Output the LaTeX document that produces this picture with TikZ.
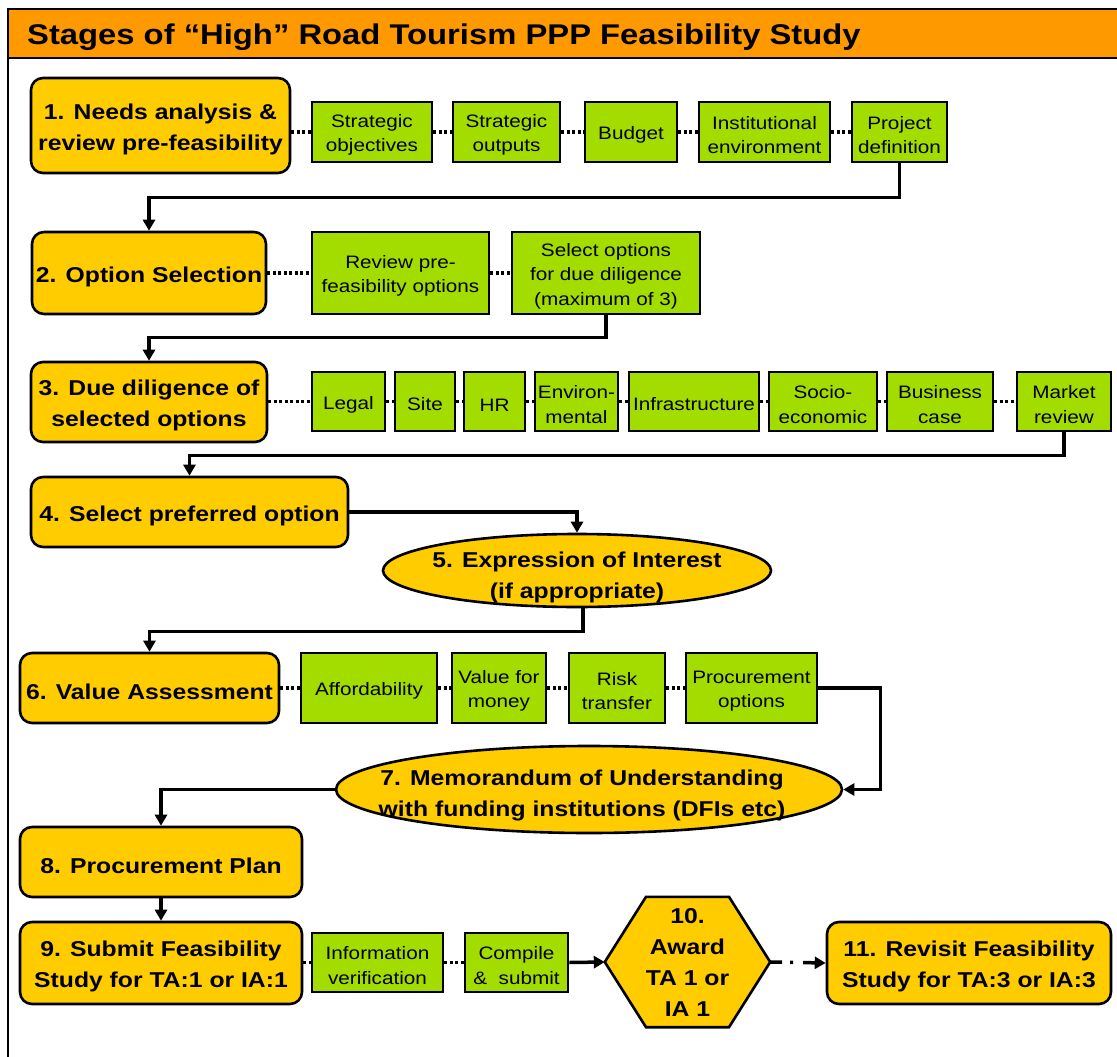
\documentclass[tikz,border=0pt]{standalone}
\usepackage{fontspec}
\setmainfont{Liberation Sans}[FakeStretch=1.15]
\usetikzlibrary{arrows.meta,shapes.geometric,calc}
\definecolor{ybox}{HTML}{FFCC00}
\definecolor{gbox}{HTML}{A3DD00}
\definecolor{obar}{HTML}{FF9900}
\newcommand\yb[5]{\node[ynode, minimum width=#3pt, minimum height=#4pt] (#1) at (#2) {\rule{0pt}{22.5pt}#5};}
\newcommand\gb[5]{\node[gnode, minimum width=#3pt, minimum height=#4pt] (#1) at (#2) {\rule{0pt}{19pt}#5};}
\begin{document}
\begin{tikzpicture}[x=1pt,y=-1pt,
  ynode/.style={draw=black, line width=2.6pt, fill=ybox, rounded corners=12pt, align=center, inner sep=0pt, font=\fontsize{21.5}{31}\selectfont\bfseries},
  gnode/.style={draw=black, line width=2.6pt, fill=gbox, align=center, inner sep=0pt, font=\fontsize{18}{24.5}\selectfont},
  enode/.style={ellipse, draw=black, line width=2.6pt, fill=ybox, inner sep=0pt, font=\fontsize{21.5}{31}\selectfont\bfseries},
  dotl/.style={line width=3.5pt, dash pattern=on 3pt off 2.5pt},
  conn/.style={line width=3.5pt, -{Triangle[length=11pt,width=12pt]}},
]
\useasboundingbox (0,0) rectangle (1117,1057);
\fill[white] (0,0) rectangle (1117,1057);
% frame and title bar
\fill[obar] (8,9) rectangle (1117,58);
\draw[line width=2.5pt] (8,9) -- (1117,9);
\draw[line width=2.5pt] (8,58) -- (1117,58);
\draw[line width=2.5pt] (8,8) -- (8,1057);
\node[anchor=base west, inner sep=0pt, font=\fontsize{28.5}{34}\selectfont\bfseries] (title) at (27,45) {Stages of “High” Road Tourism PPP Feasibility Study};

% main stages
\yb{n1}{160.5,125.5}{259}{95}{1. Needs analysis \&\\review pre-feasibility}
\yb{n2}{149,273}{234}{82}{2. Option Selection}
\yb{n3}{149,402}{236}{80}{3. Due diligence of\\selected options}
\yb{n4}{189.5,512}{317}{70}{4. Select preferred option}
\node[enode, minimum width=388pt, minimum height=73pt] (e5) at (577,570.5)
  {\raisebox{-11pt}[0pt][0pt]{\makebox[0pt]{\begin{tabular}{@{}c@{}}5. Expression of Interest\\(if appropriate)\end{tabular}}}};
\yb{n6}{149.5,688}{259}{70}{6. Value Assessment}
\node[enode, minimum width=506pt, minimum height=87pt] (e7) at (589,789.5)
  {\raisebox{-10pt}[0pt][0pt]{\makebox[0pt]{\hspace*{-14pt}\begin{tabular}{@{}c@{}}7. Memorandum of Understanding\\with funding institutions (DFIs etc)\end{tabular}}}};
\yb{n8}{161,862}{282}{70}{8. Procurement Plan}
\yb{n9}{161,963}{282}{82}{9. Submit Feasibility\\Study for TA:1 or IA:1}
\node[inner sep=0pt, minimum width=165pt, minimum height=130pt] (hex) at (687.5,962) {};
\fill[ybox] (hex.west) -- ($(hex.north)+(-41.5,0)$) -- ($(hex.north)+(41.5,0)$) -- (hex.east)
  -- ($(hex.south)+(41.5,0)$) -- ($(hex.south)+(-41.5,0)$) -- cycle;
\draw[line width=2.6pt, line join=miter] (hex.west) -- ($(hex.north)+(-41.5,0)$) -- ($(hex.north)+(41.5,0)$) -- (hex.east)
  -- ($(hex.south)+(41.5,0)$) -- ($(hex.south)+(-41.5,0)$) -- cycle;
\node[align=center, inner sep=0pt, font=\fontsize{21.5}{31}\selectfont\bfseries] (hext) at (hex.center) {10.\\Award\\TA 1 or\\IA 1};
\yb{n11}{969,963}{284}{82}{11. Revisit Feasibility\\Study for TA:3 or IA:3}

% green boxes row 1
\gb{g11}{372,132}{120}{60}{Strategic\\objectives}
\gb{g12}{506.5,132}{107}{60}{Strategic\\outputs}
\gb{g13}{631,132}{92}{60}{Budget}
\gb{g14}{764.5,132}{131}{60}{Institutional\\environment}
\gb{g15}{899.5,132}{95}{60}{Project\\definition}
% row 2
\gb{g21}{400.5,273}{177}{82}{Review pre-\\feasibility options}
\gb{g22}{606,273}{188}{82}{Select options\\for due diligence\\(maximum of 3)}
% row 3
\gb{g31}{348.5,401.5}{73}{59}{Legal}
\gb{g32}{425,401.5}{60}{59}{Site}
\gb{g33}{494.5,401.5}{61}{59}{HR}
\gb{g34}{576.5,401.5}{83}{59}{Environ-\\mental}
\gb{g35}{694,401.5}{130}{59}{Infrastructure}
\gb{g36}{823,401.5}{108}{59}{Socio-\\economic}
\gb{g37}{940,401.5}{106}{59}{Business\\case}
\gb{g38}{1064,401.5}{94}{59}{Market\\review}
% row 6
\gb{g61}{369,688}{136}{70}{Affordability}
\gb{g62}{499,688}{94}{70}{Value for\\money}
\gb{g63}{617,688}{96}{70}{Risk\\transfer}
\gb{g64}{751.5,688}{131}{70}{Procurement\\options}
% row 9
\gb{g91}{377.5,962.5}{131}{59}{Information\\verification}
\gb{g92}{516.5,962.5}{103}{59}{Compile\\\&~ submit}

% dotted links
\draw[dotl] (n1.east |- g11.west) -- (g11.west);
\draw[dotl] (g11.east) -- (g12.west);
\draw[dotl] (g12.east) -- (g13.west);
\draw[dotl] (g13.east) -- (g14.west);
\draw[dotl] (g14.east) -- (g15.west);
\draw[dotl] (n2.east) -- (g21.west);
\draw[dotl] (g21.east) -- (g22.west);
\draw[dotl] (n3.east |- g31.west) -- (g31.west);
\draw[dotl] (g31.east) -- (g32.west);
\draw[dotl] (g32.east) -- (g33.west);
\draw[dotl] (g33.east) -- (g34.west);
\draw[dotl] (g34.east) -- (g35.west);
\draw[dotl] (g35.east) -- (g36.west);
\draw[dotl] (g36.east) -- (g37.west);
\draw[dotl] (g37.east) -- (g38.west);
\draw[dotl] (n6.east) -- (g61.west);
\draw[dotl] (g61.east) -- (g62.west);
\draw[dotl] (g62.east) -- (g63.west);
\draw[dotl] (g63.east) -- (g64.west);
\draw[dotl] (n9.east |- g91.west) -- (g91.west);
\draw[dotl] (g91.east) -- (g92.west);

% flow connectors
\draw[conn] (g15.south) -- ++(0,34) -| (n2.north);
\draw[conn] (g22.south) -- ++(0,22) -| (n3.north);
\draw[conn] (g38.south) -- ++(0,23) -| (n4.north);
\draw[conn] (n4.east) -| (e5.north);
\draw[conn] ($(e5.south)+(6,0)$) -- ++(0,23) -| (n6.north);
\draw[conn] (g64.east) -- ++(62,0) |- (e7.east);
\draw[conn] (e7.west) -| (n8.north);
\draw[conn] (n8.south) -- (n9.north);
\draw[conn] (g92.east) -- (hex.west);
\draw[conn, dash pattern=on 12pt off 8pt on 3pt off 10pt] (hex.east) -- (n11.west);
\end{tikzpicture}
\end{document}
